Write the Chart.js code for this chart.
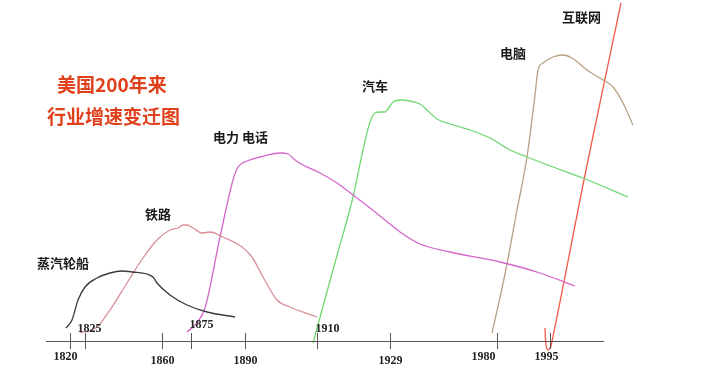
<!DOCTYPE html>
<html><head><meta charset="utf-8">
<script src="https://cdn.jsdelivr.net/npm/chart.js@4.4.1/dist/chart.umd.min.js"></script>
<style>html,body{margin:0;padding:0;background:#fff;}canvas{display:block;}</style>
</head><body>
<canvas id="c" width="701" height="383"></canvas>
<script>
// Horizontal position along the sketched time axis (axis units) and height above the axis.
const steamX = [66,72,78,85,97,110,122,133,147,153,157,170,187,207,235];
const steamY = [13,21,41,54,63,68,70,69,67,64,58,46,36,29,24];
const railX = [80,97,110,127,143,157,170,178,183,187,193,202,210,223,242,252,263,277,290,317];
const railY = [8,14,31,58,83,101,111,113,116,116,113,108,109,104,94,84,64,41,34,24];
const powerX = [187,196,205,220,233,238,247,260,280,288,295,303,320,337,353,370,385,400,420,450,500,540,575];
const powerY = [9,17,33,104,161,174,180,184,188,187,181,176,168,158,146,133,121,109,97,89,79,68,55];
const carX = [313,336,353,363,370,375,380,385,388,393,400,410,420,428,437,450,470,490,510,527,553,583,628];
const carY = [-2,82,144,191,219,228,229,229,232,239,241,240,237,230,222,217,211,203,191,184,174,163,144];
const pcX = [492,505,517,527,535,538,543,553,563,572,587,603,613,623,633];
const pcY = [8,67,131,184,246,271,278,284,286,283,271,261,254,238,216];
const netX = [545,546,548,551,586,621];
const netY = [13,-4,-9,-5,171,338];

const seriesNames = ['蒸汽轮船','铁路','电力 电话','汽车','电脑','互联网'];
const tickYears = ['1820','1825','1860','1875','1890','1910','1929','1980','1995'];
const tickPos = [70,85,162,191,245,317,390,497,550];
const axisStart = 46, axisEnd = 604;
const titleLines = ['美国200年来','行业增速变迁图'];

// styles / layout (not data)
const colors = ['#3a3a3a','#d99098','#d666cc','#6fd86f','#b9a185','#f05a48'];
const nameAnchor = [[37,263],[145,214],[213,137],[362,86],[500,53],[562,17]];
const tickLabelOffset = [[-5,16],[4,-12],[0,20],[10,-16],[0,20],[10,-12],[0,20],[-14,16],[-4,16]];

function pts(xs, ys){ return xs.map((x,i)=>({x, y: ys[i]})); }
const datasets = [[steamX,steamY],[railX,railY],[powerX,powerY],[carX,carY],[pcX,pcY],[netX,netY]].map((d,i)=>({
  label: seriesNames[i], data: pts(d[0], d[1]), borderColor: colors[i], borderWidth: 1.3,
  pointRadius: 0, fill: false,
  cubicInterpolationMode: i === 5 ? 'default' : 'monotone',
  tension: i === 5 ? 0.3 : 0.4
}));

const decor = {
  id: 'decor',
  afterDatasetsDraw(chart){
    const ctx = chart.ctx, xs = chart.scales.x, ys = chart.scales.y;
    const y0 = ys.getPixelForValue(0);
    ctx.save();
    ctx.strokeStyle = '#555'; ctx.lineWidth = 1;
    ctx.beginPath();
    ctx.moveTo(xs.getPixelForValue(axisStart), y0 + 0.5);
    ctx.lineTo(xs.getPixelForValue(axisEnd), y0 + 0.5);
    ctx.stroke();
    ctx.font = 'bold 12px "Liberation Serif"';
    ctx.fillStyle = '#222'; ctx.textAlign = 'center'; ctx.textBaseline = 'middle';
    tickPos.forEach((p,i)=>{
      const px = Math.round(xs.getPixelForValue(p)) + 0.5;
      ctx.beginPath(); ctx.moveTo(px, y0 - 8); ctx.lineTo(px, y0 + 8); ctx.stroke();
      ctx.fillText(tickYears[i], px + tickLabelOffset[i][0], y0 + tickLabelOffset[i][1]);
    });
    ctx.font = 'bold 13px "Noto Sans CJK SC"';
    ctx.textAlign = 'left'; ctx.fillStyle = '#1a1a1a';
    seriesNames.forEach((n,i)=>{ ctx.fillText(n, nameAnchor[i][0], nameAnchor[i][1]); });
    ctx.font = 'bold 19px "Noto Sans CJK SC"';
    ctx.fillStyle = '#e0401c';
    ctx.fillText(titleLines[0], 57, 85);
    ctx.fillText(titleLines[1], 47, 117);
    ctx.restore();
  }
};

new Chart(document.getElementById('c'), {
  type: 'line',
  data: { datasets },
  options: {
    responsive: false, animation: false,
    layout: { padding: 0 },
    plugins: { legend: { display: false }, tooltip: { enabled: false } },
    scales: {
      x: { type: 'linear', min: 0, max: 701, display: false },
      y: { type: 'linear', min: -42, max: 341, display: false }
    }
  },
  plugins: [decor]
});
</script>
</body></html>
